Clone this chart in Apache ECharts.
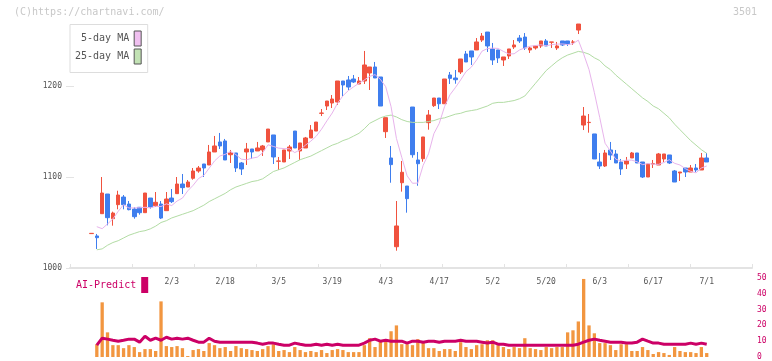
<!DOCTYPE html>
<html><head><meta charset="utf-8">
<script src="https://cdn.jsdelivr.net/npm/echarts@6/dist/echarts.min.js"></script>
<style>html,body{margin:0;padding:0;background:#fff}#c{width:772px;height:361px}</style>
</head><body><div id="c"></div>
<script>
// ---- data ----
const dates = [
 '1/10','1/14','1/15','1/16','1/17','1/20','1/21','1/22','1/23','1/24','1/27','1/28','1/29','1/30','1/31',
 '2/3','2/4','2/5','2/6','2/7','2/10','2/12','2/13','2/14','2/17','2/18','2/19','2/20','2/21','2/25','2/26','2/27','2/28',
 '3/3','3/4','3/5','3/6','3/7','3/10','3/11','3/12','3/13','3/14','3/17','3/18','3/19','3/21','3/24','3/25','3/26','3/27','3/28','3/31',
 '4/1','4/2','4/3','4/4','4/7','4/8','4/9','4/10','4/11','4/14','4/15','4/16','4/17','4/18','4/21','4/22','4/23','4/24','4/25','4/28','4/30',
 '5/1','5/2','5/7','5/8','5/9','5/12','5/13','5/14','5/15','5/16','5/19','5/20','5/21','5/22','5/23','5/26','5/27','5/28','5/29','5/30',
 '6/2','6/3','6/4','6/5','6/6','6/9','6/10','6/11','6/12','6/13','6/16','6/17','6/18','6/19','6/20','6/23','6/24','6/25','6/26','6/27','6/30',
 '7/1'];
const labelDates = ['2/3','2/18','3/5','3/19','4/3','4/17','5/2','5/20','6/3','6/17','7/1'];

const opens = [
 1037.8,1035.2,1059.7,1081.3,1054.2,1069.6,1078.0,1070.3,1064.8,1066.7,
 1060.8,1076.9,1068.5,1070.3,1063.0,1076.9,1081.7,1092.3,1089.0,1098.6,
 1106.6,1114.3,1113.2,1127.5,1138.5,1139.6,1124.5,1126.4,1115.4,1127.5,
 1130.8,1128.6,1129.7,1138.5,1146.2,1117.3,1116.5,1128.6,1150.5,1128.6,
 1131.9,1142.9,1150.5,1170.0,1178.0,1181.3,1182.4,1205.5,1206.6,1207.7,
 1202.2,1205.5,1214.3,1220.9,1209.9,1149.8,1120.9,1023.4,1093.7,1090.1,
 1176.9,1118.7,1120.1,1159.7,1178.4,1186.8,1180.5,1212.1,1208.8,1215.4,
 1235.2,1238.5,1239.6,1250.5,1259.3,1240.7,1239.6,1228.6,1233.0,1242.9,
 1252.7,1253.8,1239.6,1241.8,1244.0,1249.5,1248.1,1241.8,1249.5,1249.5,
 1248.1,1261.5,1157.1,1159.8,1147.3,1116.5,1112.1,1129.7,1125.3,1116.5,
 1114.3,1120.9,1126.4,1116.5,1100.0,1114.3,1113.2,1119.8,1124.2,1106.6,
 1104.4,1109.9,1105.5,1109.9,1107.7,1120.9];
const closes = [
 1038.1,1033.3,1082.4,1055.3,1060.4,1080.2,1069.6,1064.1,1056.4,1060.8,
 1082.4,1067.0,1072.2,1054.9,1075.8,1072.9,1092.3,1088.3,1094.5,1106.6,
 1109.9,1109.9,1127.5,1134.1,1134.1,1118.7,1126.4,1109.9,1108.8,1130.8,
 1127.5,1131.9,1134.1,1152.7,1122.0,1117.6,1129.7,1133.0,1131.9,1137.4,
 1142.9,1151.6,1160.4,1170.3,1183.5,1185.7,1205.5,1201.1,1198.9,1204.4,
 1205.5,1223.1,1220.9,1208.8,1178.0,1165.2,1113.6,1046.2,1105.2,1076.2,
 1124.5,1114.6,1144.0,1168.1,1186.8,1180.5,1207.7,1208.4,1206.9,1229.7,
 1226.4,1231.9,1248.4,1254.9,1244.0,1228.6,1230.8,1231.9,1240.7,1245.1,
 1249.5,1241.8,1241.8,1244.0,1249.5,1244.0,1248.4,1244.0,1245.1,1246.2,
 1248.4,1268.1,1167.0,1160.1,1119.8,1112.1,1126.4,1124.2,1115.4,1108.8,
 1117.6,1126.4,1115.4,1100.0,1114.3,1114.6,1125.3,1125.3,1115.4,1094.5,
 1105.5,1105.5,1109.9,1107.7,1120.9,1116.5];
const lows = [
 1037.8,1020.9,1059.7,1046.9,1046.5,1064.5,1064.5,1063.4,1054.2,1058.6,
 1060.8,1065.2,1067.0,1053.8,1063.0,1071.4,1081.7,1081.3,1089.0,1097.0,
 1104.7,1100.0,1113.2,1127.5,1130.8,1118.7,1115.4,1105.5,1102.2,1113.2,
 1119.8,1128.6,1123.1,1138.5,1114.3,1107.7,1116.5,1119.8,1131.9,1118.7,
 1131.9,1142.9,1150.5,1167.0,1173.6,1175.8,1179.1,1189.0,1195.6,1203.3,
 1202.2,1202.2,1195.6,1208.8,1178.0,1142.9,1093.7,1019.0,1083.9,1060.8,
 1121.2,1090.4,1116.8,1152.0,1177.0,1174.7,1180.5,1202.2,1202.5,1213.2,
 1226.4,1223.1,1239.6,1248.4,1237.4,1223.1,1225.3,1222.0,1229.7,1240.7,
 1247.3,1239.6,1236.3,1240.0,1241.8,1244.0,1241.8,1239.6,1244.0,1244.0,
 1245.1,1257.1,1151.6,1148.7,1119.8,1108.8,1111.0,1118.7,1115.4,1102.2,
 1108.8,1120.9,1115.4,1098.9,1100.0,1109.9,1113.2,1116.5,1114.3,1094.5,
 1095.6,1100.0,1105.5,1105.5,1107.7,1116.5];
const highs = [
 1038.1,1037.4,1100.0,1081.3,1061.9,1084.9,1080.2,1073.6,1066.7,1066.7,
 1082.4,1076.9,1083.5,1073.6,1083.5,1086.8,1100.0,1103.3,1096.7,1109.9,
 1112.1,1114.3,1135.2,1145.1,1148.4,1141.8,1129.7,1126.4,1116.5,1137.4,
 1130.8,1138.5,1135.2,1152.7,1146.2,1122.0,1129.7,1135.2,1150.5,1137.4,
 1144.0,1157.1,1160.4,1174.7,1183.5,1190.1,1205.5,1205.5,1211.0,1212.1,
 1209.9,1238.5,1220.9,1226.4,1209.9,1165.2,1134.1,1073.6,1117.6,1090.1,
 1176.9,1127.5,1144.0,1173.6,1186.8,1186.8,1207.7,1215.4,1217.6,1229.7,
 1238.5,1238.5,1252.7,1258.2,1259.3,1247.3,1239.6,1231.9,1240.7,1250.5,
 1256.0,1258.2,1242.9,1244.0,1249.5,1251.6,1248.4,1248.4,1249.5,1249.5,
 1250.5,1268.1,1176.9,1169.2,1147.3,1126.4,1129.7,1138.5,1129.7,1119.8,
 1122.0,1127.5,1126.4,1116.5,1114.3,1118.7,1126.4,1125.3,1124.2,1107.7,
 1105.5,1109.9,1113.2,1114.3,1126.4,1126.4];
const ma5 = [
 null,1045.4,1043.2,1048.4,1053.9,1062.3,1069.6,1065.9,1066.1,1066.2,
 1066.7,1066.1,1067.8,1067.5,1070.5,1068.6,1073.6,1076.8,1084.8,1090.9,
 1098.3,1101.8,1109.7,1117.6,1123.1,1124.9,1128.2,1124.6,1119.6,1118.9,
 1120.7,1121.8,1126.6,1135.4,1133.6,1131.7,1131.2,1131.0,1126.8,1129.9,
 1135.0,1139.4,1144.8,1152.5,1161.7,1170.3,1181.1,1189.2,1194.9,1199.1,
 1203.1,1206.6,1210.6,1212.5,1207.3,1199.2,1177.3,1142.4,1121.6,1101.3,
 1093.1,1093.3,1112.9,1125.5,1147.6,1158.8,1177.4,1190.3,1198.1,1206.6,
 1215.8,1220.7,1228.7,1238.3,1241.1,1241.6,1241.3,1238.0,1235.2,1235.4,
 1239.6,1241.8,1243.8,1244.4,1245.3,1244.2,1245.5,1246.0,1246.2,1245.5,
 1246.4,1250.4,1235.0,1218.0,1192.7,1165.4,1137.1,1128.5,1119.6,1117.4,
 1118.5,1118.5,1116.7,1113.6,1114.7,1114.1,1113.9,1115.9,1119.0,1115.0,
 1113.2,1109.2,1106.2,1104.6,1109.9,1112.1];
const ma25 = [
 null,1020,1021,1025,1028,1030,1033,1036,1038,1040,
 1041,1043,1046,1050,1052,1055,1057,1059,1061,1063,
 1066,1069,1073,1076,1079,1082,1086,1089,1091,1093,
 1095,1096,1098,1102,1106,1108,1110,1113,1116,1119,
 1121,1123,1126,1129,1132,1135,1137,1140,1142,1145,
 1148,1153,1159,1162,1165,1167,1168,1166,1163,1161,
 1160,1160,1160,1161,1162,1164,1165,1167,1169,1170,
 1172,1173,1174,1176,1178,1181,1182,1182,1183,1184,
 1186,1189,1196,1203,1210,1217,1222,1227,1231,1234,
 1236,1238,1237,1235,1231,1228,1222,1218,1212,1207,
 1202,1197,1192,1187,1183,1178,1175,1170,1165,1158,
 1152,1146,1140,1135,1130,1126];
const volume = [
 null,8.1,34.6,15.6,7.5,7.5,5.6,7.5,6.3,3.1,
 5.0,5.0,3.8,35.2,6.9,6.3,6.9,5.6,0.6,4.4,
 5.0,3.8,8.8,7.5,5.6,6.3,3.8,6.9,5.6,5.0,
 4.4,3.8,5.0,6.9,8.1,3.8,4.4,3.1,6.3,4.4,
 3.1,3.8,3.1,4.4,2.5,4.4,5.0,4.4,3.1,3.1,
 3.1,7.5,11.9,6.3,10.0,10.0,16.3,20.0,8.1,8.1,
 7.5,11.3,9.8,5.6,5.6,3.8,5.0,5.0,3.8,9.4,
 6.3,5.0,7.5,8.1,10.6,10.6,7.5,6.3,5.0,6.3,
 5.6,11.9,5.6,5.0,4.4,6.3,5.6,6.3,6.3,15.6,
 16.9,22.5,49.4,20.0,15.0,8.8,8.8,7.5,4.4,8.1,
 8.1,3.8,3.8,6.3,4.4,1.9,3.1,2.5,1.3,6.3,
 3.8,3.1,3.1,2.5,6.3,2.5];
const aiPredict = [
 null,7.5,11.9,11.3,10.6,10.0,10.6,11.3,11.3,9.4,
 13.1,10.6,11.9,10.6,12.5,11.3,11.9,11.3,11.9,10.6,
 9.4,9.4,11.9,10.0,9.4,9.4,9.4,9.4,9.4,9.4,
 9.4,8.8,8.1,8.8,8.8,8.1,7.5,7.5,8.8,8.1,
 7.5,7.5,8.1,7.5,8.1,7.5,8.1,7.5,7.5,7.5,
 7.5,8.8,10.6,11.3,10.0,10.6,10.0,10.0,10.0,8.8,
 10.0,10.0,9.4,10.0,10.0,9.4,10.0,10.0,10.0,10.6,
 10.0,10.0,10.0,9.4,8.8,9.4,8.1,8.1,7.5,7.5,
 7.5,7.5,7.5,7.5,7.5,7.5,7.5,7.5,7.5,7.5,
 7.5,8.1,9.4,10.6,11.3,10.6,10.0,9.4,9.4,9.4,
 8.8,8.8,9.4,11.3,10.0,8.8,8.8,8.1,8.1,8.1,
 8.1,8.1,8.8,8.1,8.8,8.1];
const priceTicks = [1000, 1100, 1200];

// ---- chart ----
const MONO = '"DejaVu Sans Mono", "Liberation Mono", monospace';
const UP = '#f0523e', DOWN = '#3f7eee';
const chart = echarts.init(document.getElementById('c'));
const candleData = opens.map((o, i) => [o, closes[i], lows[i], highs[i]]);
chart.setOption({
  animation: false,
  backgroundColor: '#fff',
  grid: [
    {left: 88.8, right: 62.6, top: 4.1, bottom: 93},
    {left: 70, right: 20, top: 4.1, bottom: 93},
    {left: 88.8, right: 62.6, top: 278, bottom: 3}
  ],
  xAxis: [
    {type: 'category', gridIndex: 0, data: dates, boundaryGap: true,
     axisLine: {show: false}, axisTick: {show: false}, splitLine: {show: false},
     axisLabel: {interval: (i, v) => labelDates.includes(v), margin: 10, color: '#555',
                 fontFamily: MONO, fontSize: 8}},
    {type: 'value', gridIndex: 1, min: 0, max: 11, interval: 1,
     axisLine: {show: true, lineStyle: {color: '#e3e3e3', width: 2}},
     axisTick: {show: true, inside: true, length: 4, lineStyle: {color: '#e3e3e3', width: 1}},
     axisLabel: {show: false}, splitLine: {show: false}},
    {type: 'category', gridIndex: 2, data: dates, boundaryGap: true, show: false}
  ],
  yAxis: [
    {type: 'value', gridIndex: 0, min: 1000, max: 1290, show: false, splitLine: {show: false}},
    {type: 'value', gridIndex: 1, min: 1000, max: 1290, interval: 100, offset: -4,
     axisLine: {show: false},
     axisTick: {show: true, length: 8, customValues: priceTicks, lineStyle: {color: '#e3e3e3', width: 1}},
     axisLabel: {customValues: priceTicks, margin: 12, color: '#555', fontFamily: MONO, fontSize: 8,
                 formatter: v => String(v)},
     splitLine: {show: false}},
    {type: 'value', gridIndex: 2, position: 'right', offset: 42.6, min: 0, max: 50, interval: 10,
     axisLine: {show: false}, axisTick: {show: false}, splitLine: {show: false},
     axisLabel: {margin: 5, color: '#cc0066', fontFamily: MONO, fontSize: 8}}
  ],
  legend: [
    {left: 70, top: 24.5, orient: 'vertical', align: 'right', icon: 'rect',
     itemWidth: 7, itemHeight: 15, itemGap: 2, padding: [6, 6, 8, 5],
     borderColor: '#dddddd', borderWidth: 1, backgroundColor: '#fff', selectedMode: false,
     textStyle: {fontFamily: MONO, fontSize: 10, color: '#555'},
     data: [
       {name: '5-day MA', itemStyle: {color: '#f0c0f0', borderColor: '#555', borderWidth: 1}},
       {name: '25-day MA', itemStyle: {color: '#c2e2b4', borderColor: '#555', borderWidth: 1}}
     ]},
    {left: 76, top: 277, orient: 'horizontal', align: 'right', icon: 'rect',
     itemWidth: 7, itemHeight: 16, padding: 0, selectedMode: false,
     textStyle: {fontFamily: MONO, fontSize: 10, color: '#cc0066'},
     data: [{name: 'AI-Predict', itemStyle: {color: '#cc0066'}}]}
  ],
  graphic: [
    {type: 'text', left: 14, top: 7, style: {text: '(C)https://chartnavi.com/', fill: '#c8c8c8', font: '10px ' + MONO}},
    {type: 'text', right: 15, top: 7, style: {text: '3501', fill: '#c8c8c8', font: '10px ' + MONO}}
  ],
  series: [
    {name: '25-day MA', type: 'line', xAxisIndex: 0, yAxisIndex: 0, data: ma25, symbol: 'none',
     lineStyle: {color: '#b2dca4', width: 1}, itemStyle: {color: '#b2dca4'}},
    {name: '5-day MA', type: 'line', xAxisIndex: 0, yAxisIndex: 0, data: ma5, symbol: 'none',
     lineStyle: {color: '#e8b4ec', width: 1}, itemStyle: {color: '#e8b4ec'}},
    {name: 'price', type: 'candlestick', xAxisIndex: 0, yAxisIndex: 0, data: candleData, barWidth: 4,
     itemStyle: {color: UP, color0: DOWN, borderColor: UP, borderColor0: DOWN, borderWidth: 1}},
    {name: 'volume', type: 'bar', xAxisIndex: 2, yAxisIndex: 2, data: volume, barWidth: 3.3,
     itemStyle: {color: '#f29640'}},
    {name: 'AI-Predict', type: 'line', xAxisIndex: 2, yAxisIndex: 2, data: aiPredict, symbol: 'none',
     lineStyle: {color: '#cc0066', width: 3}, itemStyle: {color: '#cc0066'}}
  ]
});
</script></body></html>
